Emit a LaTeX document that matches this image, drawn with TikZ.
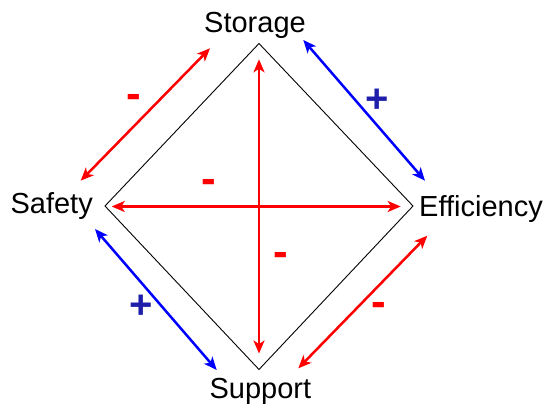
\documentclass[tikz,border=0pt]{standalone}
\usepackage{fontspec}
\setmainfont{Liberation Sans}
\usetikzlibrary{arrows.meta}
\definecolor{myred}{RGB}{255,0,0}
\definecolor{myblue}{RGB}{0,0,255}
\definecolor{plusblue}{RGB}{30,30,170}
\tikzset{
  lbl/.style={inner sep=0pt, font=\fontsize{29}{33}\selectfont},
  dbl/.style={line width=2.5pt, {Stealth[length=13pt,width=11pt,inset=3.5pt]}-{Stealth[length=13pt,width=11pt,inset=3.5pt]}},
  redarr/.style={dbl, draw=myred},
  bluearr/.style={dbl, draw=myblue},
  minus/.style={inner sep=0pt, text=myred, font=\fontsize{44}{48}\selectfont\bfseries},
  plus/.style={inner sep=0pt, text=plusblue, font=\fontsize{40}{44}\selectfont\bfseries},
  edge/.style={draw=black, line width=0.9pt}
}
\begin{document}
\begin{tikzpicture}[x=1pt,y=-1pt]
\useasboundingbox (0,0) rectangle (544,406);
% diamond
\coordinate (T) at (259,43.5);
\coordinate (R) at (413,206);
\coordinate (B) at (259,369.5);
\coordinate (L) at (105,206);
\draw[edge] (T) -- (R) -- (B) -- (L) -- cycle;
% labels
\node[lbl, anchor=base] (storage) at (255,33) {Storage};
\node[lbl, anchor=base west] (efficiency) at (419,216.7) {Efficiency};
\node[lbl, anchor=base east] (safety) at (93,214) {Safety};
\node[lbl, anchor=base] (support) at (260.4,398.3) {Support};
% arrow end points
\coordinate (a1) at (210,48.3);
\coordinate (a2) at (80.7,180.7);
\coordinate (b1) at (303.3,40);
\coordinate (b2) at (425,180.7);
\coordinate (c1) at (95,229);
\coordinate (c2) at (216.7,370);
\coordinate (d1) at (427.3,235.7);
\coordinate (d2) at (298.3,368.3);
\coordinate (h1) at (111.7,206.5);
\coordinate (h2) at (400.7,206.5);
\coordinate (v1) at (259,59.3);
\coordinate (v2) at (259,353.5);
\draw[redarr] (a1) -- (a2);
\draw[bluearr] (b1) -- (b2);
\draw[bluearr] (c1) -- (c2);
\draw[redarr] (d1) -- (d2);
\draw[redarr] (h1) -- (h2);
\draw[redarr] (v1) -- (v2);
% signs
\node[minus] (m1) at (134,101.7) {-};
\node[minus] (m2) at (209,186.7) {-};
\node[minus] (m3) at (281,259) {-};
\node[minus] (m4) at (379,309) {-};
\node[plus] (p1) at (377.5,101) {+};
\node[plus] (p2) at (140.7,306.7) {+};
\end{tikzpicture}
\end{document}
